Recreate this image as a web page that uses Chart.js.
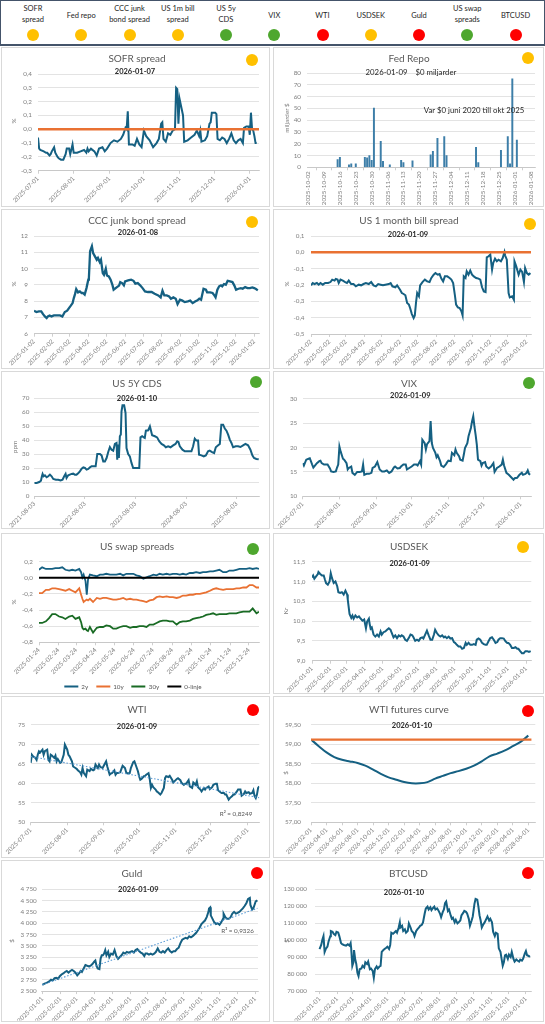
<!DOCTYPE html>
<html><head><meta charset="utf-8">
<script src="https://cdn.jsdelivr.net/npm/chart.js@4.4.1/dist/chart.umd.min.js"></script>
<style>
html,body{margin:0;padding:0;background:#fff;overflow:hidden}
#page{position:relative;width:545px;height:1024px;font-family:Lato,'Open Sans',sans-serif}
.hdr{position:absolute;left:0;top:0;width:545px;height:46px;box-sizing:border-box;border:1.5px solid #44546a;border-bottom-width:2.5px;background:#fff}
.hl{position:absolute;font-size:7.5px;color:#262626;text-align:center;line-height:11.5px;transform:translate(-50%,-50%);white-space:nowrap}
.dot{position:absolute;width:12px;height:12px;border-radius:50%;transform:translate(-50%,-50%)}
.panel{position:absolute;background:#fff}
.panel canvas{position:absolute;left:0;top:0}
.bd{position:absolute;left:0;top:0;right:0;bottom:0;box-sizing:border-box;border:1px solid #d9d9d9;pointer-events:none}
.tx{position:absolute;transform:translate(-50%,-50%);white-space:pre;line-height:1}
.ttl{font-size:10px;color:#595959}
.dt{font-size:7.5px;font-weight:bold;color:#262626}
.yt{font-size:6.3px;color:#7f7f7f;transform:translate(-50%,-50%) rotate(-90deg)}
.note{font-size:7.8px;color:#262626}
.r2{font-size:6.3px;color:#595959}
.lg{position:absolute;display:flex;align-items:center;transform:translate(-50%,-50%);font-size:6.3px;color:#595959;white-space:nowrap}
.lg span.sw{display:inline-block;width:14px;height:2px;margin-right:3px}
.lg span.it{display:flex;align-items:center;margin:0 4px}
</style></head>
<body><div id="page"></div>
<script>
// ---------- DATA ----------
const sofrStart='2025-07-01';
const sofrTicks=['2025-07-01','2025-08-01','2025-09-01','2025-10-01','2025-11-01','2025-12-01','2026-01-01'];
const sofrDays=[0,1,2,5,7,8,10,11,12,14,15,17,18,20,22,24,25,27,28,30,31,34,37,40,42,43,44,46,49,51,53,56,58,60,63,66,69,72,74,76,77,78,79,82,84,86,88,90,92,94,97,100,103,105,107,108,109,111,113,115,117,119,120,121,122,123,124,126,127,130,133,136,138,140,141,142,145,147,149,150,151,154,155,156,158,160,162,164,166,168,170,172,174,176,178,179,181,183,184,185,186,187,188,189,190];
const sofrVals=[-0.06,-0.14,-0.15,-0.16,-0.17,-0.17,-0.19,-0.18,-0.16,-0.13,-0.17,-0.20,-0.21,-0.22,-0.22,-0.18,-0.14,-0.14,-0.18,-0.11,-0.17,-0.17,-0.16,-0.15,-0.17,-0.14,-0.16,-0.14,-0.16,-0.19,-0.14,-0.13,-0.16,-0.14,-0.10,-0.08,-0.09,-0.07,-0.04,0.01,0.00,0.13,-0.11,-0.11,-0.12,-0.07,-0.11,-0.13,-0.01,-0.05,-0.08,-0.13,-0.10,-0.07,0.04,0.05,-0.07,-0.09,-0.03,-0.04,-0.01,0.00,0.30,0.29,0.04,0.22,0.18,0.10,-0.09,-0.08,-0.06,-0.04,-0.01,-0.05,-0.01,-0.09,-0.08,-0.05,0.04,0.05,0.12,0.12,0.11,-0.07,-0.08,-0.06,-0.07,-0.10,-0.07,-0.03,-0.08,-0.10,-0.08,-0.07,-0.10,0.01,0.02,0.02,-0.04,0.12,0.00,-0.01,-0.05,-0.10,-0.10];
const sofrRefDays=[0,192];
const sofrRef=[0,0];

const fedStart='2025-10-02';
const fedTicks=['2025-10-02','2025-10-09','2025-10-16','2025-10-23','2025-10-30','2025-11-06','2025-11-13','2025-11-20','2025-11-27','2025-12-04','2025-12-11','2025-12-18','2025-12-25','2026-01-01','2026-01-08'];
const fedDays=[13,14,18,19,21,25,26,27,28,29,32,33,36,41,42,46,54,55,57,60,61,74,75,85,88,89,90,92];
const fedVals=[6.5,8.5,2,3,3,8.5,8,10,6,50.3,22,5,2,6,4,5.5,10.5,13.5,24.5,26,10,17,4,14.5,26,3,75,23];

const cccStart='2025-01-02';
const cccTicks=['2025-01-02','2025-02-02','2025-03-02','2025-04-02','2025-05-02','2025-06-02','2025-07-02','2025-08-02','2025-09-02','2025-10-02','2025-11-02','2025-12-02','2026-01-02'];
const cccDays=[0,4,8,12,15,18,21,23,26,29,33,37,43,47,51,55,58,61,64,66,68,70,73,76,79,81,84,87,90,91,93,96,98,101,104,106,109,111,114,116,119,121,124,127,130,132,137,141,143,146,149,151,156,161,165,168,172,176,180,184,189,195,200,206,210,213,216,220,224,227,231,235,238,242,246,250,255,259,263,267,271,274,277,281,285,287,292,296,299,301,304,307,310,312,315,318,321,325,329,332,335,339,343,346,350,354,358,362,365,368,371];
const cccVals=[7.41,7.33,7.37,7.37,7.2,7.06,6.96,7.06,7.12,7.06,7.12,7.12,7.12,7.06,7.33,7.41,7.57,7.72,7.88,8.19,8.43,8.74,8.54,8.6,8.5,8.5,8.4,8.8,9.32,9.42,11.06,11.37,10.95,10.75,10.54,10.65,10.4,10.54,9.73,9.62,9.99,9.58,9.52,9.32,9.0,8.7,8.84,8.95,9.17,9.11,8.97,9.21,9.27,9.32,9.25,9.07,9.11,8.97,8.8,8.6,8.56,8.56,8.45,8.35,8.23,8.64,8.35,8.35,8.29,8.15,8.23,8.15,7.82,8.09,8.03,7.94,7.98,8.03,7.88,7.98,8.05,8.15,8.09,8.76,8.7,8.54,8.54,8.5,8.35,8.23,8.7,8.91,8.97,8.91,9.05,9.01,9.25,9.21,9.17,8.97,8.7,8.76,8.8,8.76,8.86,8.8,8.8,8.84,8.8,8.74,8.66];

const billStart='2025-01-02';
const billTicks=cccTicks;
const billDays=[0,3,6,10,13,16,20,24,29,33,36,40,42,45,47,50,54,58,61,64,68,72,76,81,85,89,93,98,102,106,110,114,118,122,126,132,135,138,143,146,149,151,154,157,160,163,166,168,171,174,176,178,180,183,185,189,193,197,201,204,208,211,215,218,221,224,227,231,235,238,241,244,246,249,252,255,257,259,262,264,267,270,273,276,280,284,287,290,293,296,298,301,304,307,309,312,315,318,322,325,328,329,332,335,337,341,344,345,348,352,355,358,361,363,366,369,372];
const billVals=[-0.202,-0.188,-0.194,-0.188,-0.198,-0.188,-0.198,-0.188,-0.188,-0.182,-0.167,-0.173,-0.163,-0.167,-0.188,-0.167,-0.173,-0.182,-0.188,-0.173,-0.194,-0.194,-0.208,-0.198,-0.202,-0.194,-0.188,-0.194,-0.182,-0.202,-0.208,-0.194,-0.198,-0.202,-0.198,-0.194,-0.188,-0.208,-0.214,-0.202,-0.218,-0.229,-0.249,-0.255,-0.263,-0.31,-0.32,-0.341,-0.378,-0.402,-0.386,-0.31,-0.249,-0.269,-0.202,-0.182,-0.167,-0.178,-0.182,-0.157,-0.137,-0.127,-0.137,-0.133,-0.161,-0.178,-0.147,-0.147,-0.157,-0.167,-0.188,-0.263,-0.32,-0.337,-0.341,-0.361,-0.386,-0.147,-0.157,-0.116,-0.137,-0.112,-0.137,-0.147,-0.157,-0.161,-0.167,-0.214,-0.239,-0.243,-0.031,-0.024,-0.014,-0.106,-0.065,-0.039,-0.055,-0.045,-0.055,-0.035,0.002,-0.018,-0.045,-0.249,-0.276,-0.269,-0.29,-0.055,-0.086,-0.137,-0.106,-0.12,-0.182,-0.096,-0.127,-0.137,-0.127];
const billRefDays=[0,373];
const billRef=[0,0];

const cdsStart='2021-08-03';
const cdsTicks=['2021-08-03','2022-08-03','2023-08-03','2024-08-03','2025-08-03'];
const cdsDays=[0,17,36,48,55,60,67,77,89,101,113,125,137,156,173,190,204,216,226,233,245,257,269,281,293,305,317,329,342,354,366,378,390,402,414,426,443,455,474,486,498,510,522,534,546,558,570,582,594,599,606,611,618,625,630,637,649,659,666,678,690,702,714,738,758,767,779,791,798,806,823,835,839,851,871,887,902,919,936,950,967,984,1003,1020,1032,1041,1051,1070,1087,1111,1135,1147,1159,1171,1183,1190,1207,1224,1239,1255,1267,1284,1299,1311,1328,1340,1351,1364,1376,1388,1400,1412,1424,1436,1455,1472,1489,1508,1525,1544,1561,1575,1587,1604,1621];
const cdsVals=[9.3,9.3,10,11,14.1,15.8,14.1,14.8,13.4,14.1,15.3,14.1,12.2,11.7,11.7,11.2,11.7,14.1,15.8,12.9,14.8,15.3,15.8,16,15.3,15.3,16.2,17.7,19.6,20.5,20.1,18.9,19.4,20.5,21.3,21.3,21.3,30.1,30.1,29.1,24.8,24.8,27.2,31.5,35.1,33.2,32.5,37.3,38,26,36.8,27.2,42.8,44,60.7,65,65,59.5,34.4,30.1,28.4,23.7,20.1,20.1,20.1,42,42.8,42,41.6,46.8,47.1,49.9,48.3,43.5,42.8,42,39.2,37.3,36.3,34.9,35.6,34.9,36.3,37.3,39.2,38.7,35.6,33.2,32,32,32,35.6,41.1,39.7,39.7,29.6,29.1,28.4,29.1,32,32.5,31.5,30.8,34.9,36.3,37.3,51.1,51.1,48.3,46.8,44,40.4,38,34.9,35.6,35.6,35.1,36.3,37.3,36.3,33.2,29.1,27.2,26.5,26.3];

const vixStart='2025-07-01';
const vixTicks=sofrTicks;
const vixDays=[0,1,3,5,6,8,9,11,12,14,15,16,18,20,21,23,24,26,28,29,30,31,32,34,35,37,38,39,41,42,44,46,48,50,51,52,54,56,58,59,61,63,65,67,69,71,73,75,77,78,80,82,83,85,87,88,90,92,94,96,97,99,100,101,103,104,105,107,108,109,110,112,113,114,116,117,119,121,122,123,125,126,128,129,130,132,133,135,136,137,139,140,142,143,144,145,146,147,148,150,151,152,154,155,157,159,161,162,164,166,168,169,170,172,174,176,178,179,181,183,185,186,188,189,190,191,192];
const vixVals=[16.8,16.3,17.5,17.7,17.8,16.5,15.9,16.5,16.8,17.2,17.3,16.8,16.5,16.5,16.5,15.7,15.1,15,15.1,15.9,16.5,20.2,19.2,17.7,17.5,16.8,15.5,15.8,16.1,14.8,14.4,15,15,15.1,16.5,14.4,14.6,14.6,14.8,15.8,16.1,17,15.5,15.1,15.1,15.3,14.8,15.1,15.9,16.1,15.7,15.8,16.1,16.5,16.5,15.5,15.8,16.1,16.5,16.5,16.3,17.2,16.5,21.6,20.9,19.6,20.7,21.3,25.4,20.9,19.9,18.9,18,18.4,17.2,16.3,16,16.6,17,17.3,17.2,18.9,18.4,19.6,18.9,18.2,17.5,17.3,18.5,19.9,20.9,22.3,24,25.4,26.4,24.3,22.6,20.6,17.5,17.2,16.3,16.8,17,16.1,15.7,16.1,16.8,15,15.8,16.1,16.5,17.5,16.3,14.8,14.4,13.9,13.4,13.7,13.8,14.4,14.8,14.4,14.6,14.8,15.3,14.6,14.4];

const swapStart='2025-01-24';
const swapTicks=['2025-01-24','2025-02-24','2025-03-24','2025-04-24','2025-05-24','2025-06-24','2025-07-24','2025-08-24','2025-09-24','2025-10-24','2025-11-24','2025-12-24'];
const swapDays=[0,5,11,16,21,26,32,37,42,48,53,58,64,67,69,71,74,76,78,81,86,92,97,102,107,113,118,123,129,134,139,145,150,155,160,166,171,176,182,187,192,197,203,208,213,219,224,229,234,240,245,250,256,261,266,272,277,282,287,293,298,303,309,314,319,325,330,335,340,346,350];
const swap2y=[0.10,0.13,0.11,0.11,0.11,0.12,0.12,0.13,0.10,0.09,0.10,0.09,0.11,0.07,0.005,0.04,-0.04,-0.21,-0.02,0.04,0.03,0.02,0.04,0.04,0.05,0.04,0.04,0.04,0.05,0.03,0.05,0.05,0.05,0.03,0.02,-0.01,0.005,0.02,0.04,0.03,0.05,0.04,0.05,0.04,0.05,0.05,0.04,0.05,0.04,0.06,0.06,0.07,0.06,0.07,0.07,0.08,0.08,0.09,0.10,0.07,0.07,0.09,0.09,0.10,0.11,0.11,0.11,0.12,0.11,0.12,0.11];
const swap10y=[-0.19,-0.19,-0.15,-0.15,-0.13,-0.13,-0.14,-0.15,-0.16,-0.14,-0.16,-0.18,-0.13,-0.21,-0.26,-0.30,-0.28,-0.27,-0.28,-0.26,-0.30,-0.25,-0.26,-0.25,-0.25,-0.26,-0.27,-0.27,-0.26,-0.25,-0.27,-0.26,-0.27,-0.27,-0.28,-0.29,-0.30,-0.28,-0.27,-0.24,-0.23,-0.24,-0.23,-0.24,-0.24,-0.25,-0.24,-0.22,-0.22,-0.21,-0.21,-0.20,-0.20,-0.19,-0.18,-0.16,-0.14,-0.13,-0.14,-0.15,-0.14,-0.14,-0.14,-0.13,-0.13,-0.12,-0.12,-0.09,-0.09,-0.12,-0.12];
const swap30y=[-0.56,-0.56,-0.54,-0.50,-0.45,-0.45,-0.48,-0.49,-0.51,-0.48,-0.47,-0.51,-0.49,-0.55,-0.62,-0.64,-0.63,-0.65,-0.66,-0.61,-0.68,-0.62,-0.61,-0.61,-0.59,-0.60,-0.63,-0.63,-0.61,-0.60,-0.60,-0.62,-0.61,-0.61,-0.60,-0.60,-0.61,-0.58,-0.58,-0.56,-0.54,-0.53,-0.53,-0.54,-0.54,-0.58,-0.55,-0.54,-0.54,-0.53,-0.51,-0.50,-0.49,-0.48,-0.46,-0.45,-0.44,-0.46,-0.45,-0.45,-0.45,-0.44,-0.44,-0.44,-0.43,-0.42,-0.42,-0.42,-0.38,-0.44,-0.42];
const swapZeroDays=[0,350];
const swapZero=[0,0];
const swapNames=['2y','10y','30y','0-linje'];

const sekStart='2025-01-01';
const sekTicks=['2025-01-01','2025-02-01','2025-03-01','2025-04-01','2025-05-01','2025-06-01','2025-07-01','2025-08-01','2025-09-01','2025-10-01','2025-11-01','2025-12-01','2026-01-01'];
const sekDays=[0,2,4,7,10,11,14,17,20,22,24,27,30,32,34,37,40,43,45,48,51,54,57,60,61,64,67,69,71,74,77,80,82,86,89,92,94,97,98,100,102,105,108,111,114,117,119,122,125,128,131,134,136,139,142,145,148,151,153,156,159,162,165,168,171,173,176,179,182,185,188,190,193,196,199,202,205,208,210,213,216,219,222,225,227,230,233,236,239,242,244,247,250,253,256,259,262,264,267,270,273,276,279,281,284,287,290,293,296,298,301,304,307,310,313,316,318,321,324,327,330,333,335,338,341,344,347,350,352,355,358,361,364,367,370,373];
const sekVals=[11.1,11.15,11.07,11.13,11.19,11.24,11.19,11.15,11.15,11.05,10.96,10.92,11.0,11.21,11.09,10.96,11.0,10.88,10.73,10.71,10.73,10.67,10.77,10.67,10.54,10.18,10.08,10.14,10.06,10.14,10.09,10.12,10.08,10.01,10.04,9.82,9.99,10.06,9.95,9.81,9.84,9.66,9.61,9.66,9.61,9.74,9.66,9.72,9.74,9.78,9.82,9.78,9.7,9.59,9.64,9.57,9.64,9.61,9.64,9.61,9.53,9.5,9.57,9.66,9.64,9.59,9.5,9.53,9.5,9.57,9.59,9.56,9.66,9.76,9.64,9.53,9.53,9.66,9.78,9.7,9.64,9.61,9.64,9.59,9.61,9.57,9.61,9.56,9.57,9.47,9.45,9.4,9.36,9.36,9.3,9.32,9.45,9.4,9.45,9.4,9.4,9.42,9.4,9.53,9.56,9.53,9.45,9.42,9.4,9.4,9.49,9.57,9.59,9.53,9.45,9.47,9.53,9.57,9.57,9.56,9.49,9.45,9.45,9.4,9.32,9.32,9.34,9.3,9.3,9.24,9.19,9.19,9.24,9.24,9.22,9.24];

const wtiStart='2025-07-01';
const wtiTicks=sofrTicks;
const wtiDays=[0,1,2,4,5,6,7,8,10,11,12,14,15,16,17,18,20,21,22,23,25,26,28,29,31,32,33,35,36,38,39,40,42,43,44,45,47,48,50,51,53,54,55,57,58,59,61,62,64,65,67,68,69,71,72,73,74,76,77,78,80,81,82,84,85,87,88,89,91,92,93,94,96,97,98,100,101,102,103,104,106,107,108,110,111,113,114,115,117,118,120,121,123,124,125,127,128,130,131,132,134,135,137,138,140,141,142,144,145,147,148,149,151,152,154,155,157,158,159,161,162,164,165,166,168,169,171,172,173,175,176,178,179,181,182,183,185,186,188,189,190,191,192,193,194];
const wtiVals=[65.2,67.3,66.9,66.5,66,67.3,68.2,67.9,68.6,67.3,68.2,68.6,66,65.6,67.3,67.1,66.5,67.1,65.6,66.2,65.2,65.4,67.3,69.9,68.6,67.3,66.9,65.6,64.3,63.9,63.7,63.3,62.8,62.2,63.9,62.7,61.8,63.5,63.1,63.7,63.3,63.5,64.8,63.9,64.8,64.2,63.9,64.5,65.6,64.3,62.2,62.5,62.6,63.3,62.2,62.6,62.6,62.8,63.7,64.5,63.9,62.8,62.5,62.6,63.9,65.4,65.6,64.8,63.1,61.8,60.9,61.1,61.8,61.9,62.2,62.6,61.1,58.8,59.6,59,58.4,57.9,57.7,57.1,57.5,58.8,61.3,61.8,61.6,61.9,60.9,60.2,60.8,61.1,61.3,60.8,60.1,59.6,59.9,59.9,60.8,59.2,58.8,60.2,59.6,60.5,59,58.4,57.9,58.8,58.4,58.8,59.2,58.5,59,59.6,59.9,59.9,58.2,57.7,57.5,57.5,57.1,57.1,55.8,56.2,56.7,57.1,57.1,57.9,58.4,58.4,56.8,57.3,57.9,57.5,57.7,57.3,57.5,58.2,56.7,56.2,57.1,58.8,59.2];
const wtiTrendDays=[0,194];
const wtiTrend=[66.85,56.3];

const futStart='2026-02-01';
const futTicks=['2026-02-01','2026-04-01','2026-06-01','2026-08-01','2026-10-01','2026-12-01','2027-02-01','2027-04-01','2027-06-01','2027-08-01','2027-10-01','2027-12-01','2028-02-01','2028-04-01','2028-06-01'];
const futVals=[59.12,58.95,58.79,58.67,58.6,58.56,58.52,58.45,58.35,58.24,58.15,58.09,58.03,58.0,58.0,58.03,58.12,58.19,58.26,58.31,58.37,58.45,58.56,58.69,58.76,58.84,58.95,59.06,59.22];
const futSpotMonths=[-0.2,28.4];
const futSpot=[59.12,59.12];

const guldStart='2025-01-01';
const guldTicks=sekTicks;
const guldDays=[0,3,6,9,12,15,18,21,24,27,30,33,36,39,42,45,48,51,54,57,60,63,66,68,71,74,77,80,83,86,89,91,93,95,98,100,102,104,106,108,110,113,115,118,121,124,127,130,133,136,139,142,145,148,151,154,157,160,163,166,169,172,175,177,180,183,186,189,192,195,198,201,204,207,210,213,216,219,222,225,228,231,234,237,240,243,246,249,252,255,258,261,264,267,270,273,276,279,282,285,286,288,289,292,295,298,301,304,307,310,311,314,317,320,323,326,329,332,335,338,341,344,347,350,353,356,357,360,362,364,366,369];
const guldVals=[2638,2661,2676,2692,2715,2753,2738,2784,2792,2769,2830,2868,2891,2922,2945,2907,2945,2968,2945,2907,2846,2891,2945,2922,2999,3076,3060,3045,3060,3099,3152,3176,3060,2999,2984,3214,3291,3291,3329,3406,3291,3368,3252,3329,3306,3406,3275,3214,3252,3291,3352,3329,3368,3352,3368,3383,3352,3406,3429,3383,3352,3329,3275,3329,3329,3306,3329,3306,3329,3368,3444,3368,3352,3383,3352,3406,3444,3383,3352,3383,3383,3429,3460,3560,3636,3660,3675,3660,3713,3690,3713,3752,3790,3844,3905,3982,4020,4059,4136,4251,4328,4351,4174,4097,4020,3982,3998,3967,4020,4097,4212,4136,4097,4097,4136,4212,4251,4212,4228,4251,4289,4328,4381,4443,4535,4558,4404,4305,4328,4404,4481,4504];
const guldTrendDays=[0,369];
const guldTrend=[2638,4330];

const btcStart='2025-01-01';
const btcTicks=sekTicks;
const btcDays=[0,3,5,7,9,11,14,16,19,20,23,25,28,30,33,35,38,40,43,47,50,53,55,56,58,60,61,63,65,67,69,71,74,76,79,81,84,86,89,91,94,96,98,101,103,106,108,110,113,115,118,120,123,125,127,130,132,135,137,140,142,143,146,148,151,153,156,158,161,163,166,168,171,173,176,178,181,183,186,188,191,193,196,198,200,203,205,208,210,213,215,218,220,222,224,227,229,232,234,236,239,241,244,246,249,251,254,256,259,261,264,266,269,271,274,276,279,281,283,285,287,290,292,295,297,300,302,305,307,310,312,315,317,320,322,324,326,328,330,333,335,338,340,343,345,348,350,353,355,358,360,363,365,367,370,372];
const btcVals=[94800,97200,100300,102400,93100,94800,96200,99300,102400,105400,105000,103800,103000,105000,104600,102400,98300,97600,97200,96800,97600,96800,98300,95200,84900,87000,94200,89000,86000,80800,78800,82900,83300,84900,83900,87000,86000,87400,82900,83300,81900,77800,82900,84500,83300,84500,84900,93100,94200,94800,95600,96200,94800,97200,104400,103800,104400,105400,104400,107500,110500,107500,108500,105400,106400,104400,105400,109900,107500,105400,104400,102400,105400,106400,107500,108500,109100,110500,115700,118700,119800,118100,119400,117700,118700,119800,118100,118700,117700,115700,113600,116700,118100,121800,122800,117300,118100,114600,112600,113200,110500,112000,109900,110500,111600,114600,116100,117300,116700,115700,112600,108500,111600,114000,121400,124300,123900,119800,114600,111600,107500,109500,110500,112600,114000,111600,112600,110500,105000,102400,104400,103800,95200,93100,89000,84900,87000,91100,91500,89000,91500,90100,93100,89000,87400,88600,88000,87400,88600,88000,89000,92100,93600,91100,90700,90100];

const hdrNames=[['SOFR','spread'],['Fed repo'],['CCC junk','bond spread'],['US 1m bill','spread'],['US 5y','CDS'],['VIX'],['WTI'],['USDSEK'],['Guld'],['US swap','spreads'],['BTCUSD']];
const hdrStatus=['y','y','y','y','g','g','r','y','r','g','r'];

// ---------- STYLE / HELPERS ----------
const FONT="Lato, 'Open Sans', sans-serif";
const COL={y:'#FFC000',g:'#4EA72E',r:'#FF0000'};
const BLUE='#156082', ORANGE='#E97132', GREEN='#196B24';
function ymd(s){const a=s.split('-').map(Number);return Date.UTC(a[0],a[1]-1,a[2]);}
function dayOf(start,d){return Math.round((ymd(d)-ymd(start))/86400000);}
function monthOf(start,d){const a=start.split('-').map(Number),b=d.split('-').map(Number);return (b[0]-a[0])*12+(b[1]-a[1]);}
function pts(xs,ys){return xs.map((x,i)=>({x:x,y:ys[i]}));}
function fmt(v,dec){if(Math.abs(v)<1e-9)v=0;let s=v.toFixed(dec);let parts=s.split('.');let i=parts[0];const neg=i[0]==='-';if(neg)i=i.slice(1);i=i.replace(/\B(?=(\d{3})+(?!\d))/g,'\u00a0');return (neg?'-':'')+i+(parts[1]?','+parts[1]:'');}
function line(xs,ys,color,w,extra){return Object.assign({type:'line',data:pts(xs,ys),borderColor:color,backgroundColor:color,borderWidth:w,pointRadius:0,tension:0,fill:false,order:1},extra||{});}

const page=document.getElementById('page');
// header
const hdr=document.createElement('div');hdr.className='hdr';page.appendChild(hdr);
hdrNames.forEach((n,i)=>{
  const cx=33+i*48.25;
  const t=document.createElement('div');t.className='hl';t.innerHTML=n.join('<br>');
  t.style.left=cx+'px';t.style.top=(n.length===2?13.7:15.6)+'px';page.appendChild(t);
  const d=document.createElement('div');d.className='dot';d.style.left=cx+'px';d.style.top='34.5px';d.style.background=COL[hdrStatus[i]];page.appendChild(d);
});

function panel(x,y,w,h){
  const p=document.createElement('div');p.className='panel';
  p.style.left=x+'px';p.style.top=y+'px';p.style.width=w+'px';p.style.height=h+'px';
  const c=document.createElement('canvas');c.width=w;c.height=h;c.style.width=w+'px';c.style.height=h+'px';
  p.appendChild(c);const b=document.createElement('div');b.className='bd';p.appendChild(b);
  page.appendChild(p);return {p:p,c:c,w:w,h:h};
}
function tx(pn,cls,text,x,y){const d=document.createElement('div');d.className='tx '+cls;d.textContent=text;d.style.left=x+'px';d.style.top=y+'px';pn.p.appendChild(d);return d;}
function dot(pn,st,x,y){const d=document.createElement('div');d.className='dot';d.style.left=x+'px';d.style.top=y+'px';d.style.background=COL[st];pn.p.appendChild(d);}

function chart(pn,o,datasets){
  return new Chart(pn.c,{type:o.type||'line',data:{datasets:datasets},options:{
    responsive:false,maintainAspectRatio:false,animation:false,events:[],
    layout:{padding:{left:0,top:o.T,right:pn.w-o.R,bottom:0}},
    plugins:{legend:{display:false},tooltip:{enabled:false},title:{display:false}},
    scales:{
      x:{type:'linear',min:o.xmin,max:o.xmax,offset:false,
        afterBuildTicks:s=>{s.ticks=o.xt.map(v=>({value:v}));},
        afterFit:s=>{s.height=pn.h-o.B;},
        ticks:{autoSkip:false,maxRotation:o.rot||45,minRotation:o.rot||45,padding:1,color:'#7f7f7f',font:{family:FONT,size:6.3},callback:(v,i)=>o.xl[i]},
        grid:{drawOnChartArea:false,drawTicks:true,tickLength:3,color:'#bfbfbf',lineWidth:0.75},
        border:{display:true,color:'#bfbfbf',width:0.75}},
      y:{type:'linear',min:o.ymin,max:o.ymax,
        afterFit:s=>{s.width=o.L;},
        ticks:{stepSize:o.ys,padding:o.yp||6,color:'#7f7f7f',font:{family:FONT,size:6.3},callback:v=>fmt(v,o.yd)},
        grid:{color:'#d9d9d9',lineWidth:0.75,drawTicks:false},
        border:{display:false}}
    }}});
}

// ---------- 1 SOFR ----------
let pn=panel(1,47,269,160);
chart(pn,{L:37,T:27,R:258,B:123.7,xmin:0,xmax:192,xt:sofrTicks.map(d=>dayOf(sofrStart,d)),xl:sofrTicks,ymin:-0.3,ymax:0.4,ys:0.1,yd:1,yp:6},
  [line(sofrDays,sofrVals,BLUE,2),line(sofrRefDays,sofrRef,ORANGE,2.5,{order:0})]);
tx(pn,'ttl','SOFR spread',136,11);tx(pn,'dt','2026-01-07',134,25.3);tx(pn,'yt','%',13,74);dot(pn,'y',251,13);

// ---------- 2 Fed Repo ----------
pn=panel(273,47,271,160);
chart(pn,{type:'bar',L:34,T:26,R:262,B:120.3,xmin:-0.5,xmax:100,xt:fedTicks.map(d=>dayOf(fedStart,d)),xl:fedTicks,rot:90,ymin:0,ymax:80,ys:10,yd:0,yp:6},
  [{type:'bar',data:pts(fedDays,fedVals),backgroundColor:'#3d7ea8',barThickness:1.3,grouped:false}]);
tx(pn,'ttl','Fed Repo',136,10.5);tx(pn,'note','2026-01-09    $0 miljarder',138,25.5);
tx(pn,'note','Var $0 juni 2020 till okt 2025',201,63.5);tx(pn,'yt','miljarder $',14,71);dot(pn,'y',255,11);

// ---------- 3 CCC ----------
pn=panel(1,209,269,160);
chart(pn,{L:33,T:27,R:258,B:124.7,xmin:0,xmax:373,xt:cccTicks.map(d=>dayOf(cccStart,d)),xl:cccTicks,ymin:6,ymax:12,ys:1,yd:0,yp:6},
  [line(cccDays,cccVals,BLUE,2.3)]);
tx(pn,'ttl','CCC junk bond spread',136,11.3);tx(pn,'dt','2026-01-08',137,24);tx(pn,'yt','%',13,75);dot(pn,'y',251,13);

// ---------- 4 US 1 month bill ----------
pn=panel(273,209,271,160);
chart(pn,{L:38,T:27,R:258,B:125,xmin:0,xmax:373,xt:billTicks.map(d=>dayOf(billStart,d)),xl:billTicks,ymin:-0.5,ymax:0.1,ys:0.1,yd:1,yp:6.5},
  [line(billDays,billVals,BLUE,2),line(billRefDays,billRef,ORANGE,2.5,{order:0})]);
tx(pn,'ttl','US 1 month bill spread',136,11);tx(pn,'dt','2026-01-09',135,25.7);tx(pn,'yt','%',14,75);dot(pn,'y',256.7,14.7);

// ---------- 5 CDS ----------
pn=panel(1,371,269,158);
chart(pn,{L:33.3,T:27.3,R:258,B:125,xmin:0,xmax:1623,xt:cdsTicks.map(d=>dayOf(cdsStart,d)),xl:cdsTicks,ymin:0,ymax:70,ys:10,yd:0,yp:5},
  [line(cdsDays,cdsVals,BLUE,2)]);
tx(pn,'ttl','US 5Y CDS',136,12);tx(pn,'dt','2026-01-10',136,27.7);tx(pn,'yt','ppm',14,76);dot(pn,'g',255,11.3);

// ---------- 6 VIX ----------
pn=panel(273,371,271,158);
chart(pn,{L:29.7,T:27.7,R:258.3,B:125.3,xmin:0,xmax:193,xt:vixTicks.map(d=>dayOf(vixStart,d)),xl:vixTicks,ymin:10,ymax:30,ys:5,yd:0,yp:5.5},
  [line(vixDays,vixVals,BLUE,2)]);
tx(pn,'ttl','VIX',136,12);tx(pn,'dt','2026-01-09',137.3,25.3);dot(pn,'g',256.3,12);

// ---------- 7 US swap spreads ----------
pn=panel(1,533,269,161);
const swapCols=[BLUE,ORANGE,GREEN,'#000000'];
chart(pn,{L:38,T:28.7,R:258,B:109.3,xmin:0,xmax:350,xt:swapTicks.map(d=>dayOf(swapStart,d)),xl:swapTicks,ymin:-0.8,ymax:0.2,ys:0.2,yd:1,yp:6},
  [line(swapDays,swap2y,swapCols[0],1.8,{label:swapNames[0],order:2}),
   line(swapDays,swap10y,swapCols[1],1.8,{label:swapNames[1],order:3}),
   line(swapDays,swap30y,swapCols[2],1.8,{label:swapNames[2],order:4}),
   line(swapZeroDays,swapZero,swapCols[3],2,{label:swapNames[3],order:0})]);
tx(pn,'ttl','US swap spreads',136,13.3);tx(pn,'yt','%',13,69);dot(pn,'g',252,15.7);
(function(){const lg=document.createElement('div');lg.className='lg';lg.style.left='132px';lg.style.top='153.3px';
  swapNames.forEach((n,i)=>{const it=document.createElement('span');it.className='it';const sw=document.createElement('span');sw.className='sw';sw.style.background=swapCols[i];it.appendChild(sw);it.appendChild(document.createTextNode(n));lg.appendChild(it);});
  pn.p.appendChild(lg);})();

// ---------- 8 USDSEK ----------
pn=panel(273,533,271,161);
chart(pn,{L:39,T:28.7,R:258.3,B:127.7,xmin:0,xmax:374,xt:sekTicks.map(d=>dayOf(sekStart,d)),xl:sekTicks,ymin:9,ymax:11.5,ys:0.5,yd:1,yp:6.5},
  [line(sekDays,sekVals,BLUE,2)]);
tx(pn,'ttl','USDSEK',136,13.3);tx(pn,'dt','2026-01-09',136.7,30.7);tx(pn,'yt','Kr',13,78);dot(pn,'y',249.7,14.3);

// ---------- 9 WTI ----------
pn=panel(1,696,269,162);
chart(pn,{L:29.7,T:28.7,R:258.3,B:126.3,xmin:0,xmax:194,xt:wtiTicks.map(d=>dayOf(wtiStart,d)),xl:wtiTicks,ymin:50,ymax:75,ys:5,yd:0,yp:5.5},
  [line(wtiDays,wtiVals,BLUE,2),line(wtiTrendDays,wtiTrend,'#5b9bd5',1.1,{borderDash:[1.5,1.8],order:0})]);
tx(pn,'ttl','WTI',136,13);tx(pn,'dt','2026-01-09',136,31.3);dot(pn,'r',252.3,13.7);
tx(pn,'r2','R\u00b2 = 0,8249',235,117.7);

// ---------- 10 WTI futures curve ----------
pn=panel(273,696,271,162);
chart(pn,{L:38,T:28.7,R:262.3,B:126.3,xmin:0,xmax:28.9,xt:futTicks.map(d=>monthOf(futStart,d)),xl:futTicks,ymin:57,ymax:59.5,ys:0.5,yd:2,yp:10},
  [line(futVals.map((v,i)=>i),futVals,BLUE,2,{tension:0.3}),line(futSpotMonths,futSpot,ORANGE,2.2,{order:0})]);
tx(pn,'ttl','WTI futures curve',136,13);tx(pn,'dt','2026-01-10',139,30.3);tx(pn,'yt','$',13,77);dot(pn,'r',255,15.3);

// ---------- 11 Guld ----------
pn=panel(1,860,269,162);
chart(pn,{L:40.7,T:29.3,R:257,B:131.1,xmin:-1,xmax:370,xt:guldTicks.map(d=>dayOf(guldStart,d)),xl:guldTicks,ymin:2500,ymax:4750,ys:250,yd:0,yp:5},
  [line(guldDays,guldVals,BLUE,2),line(guldTrendDays,guldTrend,'#5b9bd5',1.1,{borderDash:[1.5,1.8],order:0})]);
tx(pn,'ttl','Guld',131,12.6);tx(pn,'dt','2026-01-09',137.3,30);tx(pn,'yt','$',11,81);dot(pn,'r',256.2,12.6);
tx(pn,'r2','R\u00b2 = 0,9326',236.5,71);

// ---------- 12 BTCUSD ----------
pn=panel(273,860,271,162);
chart(pn,{L:42,T:29.3,R:258,B:131.1,xmin:-8,xmax:374,xt:btcTicks.map(d=>dayOf(btcStart,d)),xl:btcTicks,ymin:70000,ymax:130000,ys:10000,yd:0,yp:8},
  [line(btcDays,btcVals,BLUE,2)]);
tx(pn,'ttl','BTCUSD',135.4,12.6);tx(pn,'dt','2026-01-10',131,32.8);tx(pn,'yt','$',14,81);dot(pn,'r',254.6,12.6);
</script>
</body></html>
